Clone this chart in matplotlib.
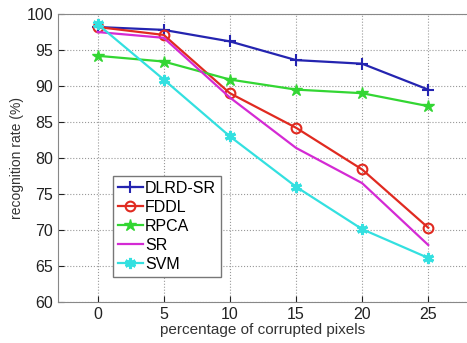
import matplotlib
matplotlib.use("Agg")
from matplotlib import pyplot as plt

x = [0, 5, 10, 15, 20, 25]
dlrd_sr = [98.2, 97.8, 96.2, 93.6, 93.1, 89.5]
fddl = [98.2, 97.1, 89.0, 84.2, 78.4, 70.3]
rpca = [94.2, 93.4, 90.9, 89.5, 89.0, 87.2]
sr = [97.5, 96.7, 88.4, 81.4, 76.5, 67.9]
svm = [98.6, 90.9, 83.0, 76.0, 70.1, 66.1]

plt.rcParams["font.family"] = ["Liberation Sans", "DejaVu Sans"]

fig = plt.figure(figsize=(4.67, 3.43), dpi=100)
ax = fig.add_axes([0.124, 0.12, 0.878, 0.839])

lw = 1.6
ax.plot(x, dlrd_sr, color="#2424b0", marker="+", ms=8, mew=1.5, lw=lw, label="DLRD-SR")
ax.plot(x, fddl, color="#e02a20", marker="o", ms=7, mfc="none", mew=1.5, lw=lw, label="FDDL")
ax.plot(x, rpca, color="#33d633", marker="*", ms=9, lw=lw, label="RPCA")
ax.plot(x, sr, color="#d42ad4", lw=lw, label="SR")
ax.plot(x, svm, color="#33e0e0", marker=(6, 2, 0), ms=8, mew=2.2, lw=lw, label="SVM")

ax.set_xlim(-3, 28)
ax.set_ylim(60, 100)
ax.set_xticks(x)
ax.set_yticks(range(60, 101, 5))
ax.tick_params(direction="in", labelsize=11.5, colors="#222222", length=4)
for s in ax.spines.values():
    s.set_color("#888888")
ax.grid(True, linestyle=":", color="#999999", lw=0.8)

ax.set_xlabel("percentage of corrupted pixels", fontsize=11, color="#333333", labelpad=1)
ax.set_ylabel("recognition rate (%)", fontsize=10, color="#333333", labelpad=2)

leg = ax.legend(loc="lower left", bbox_to_anchor=(0.134, 0.087), fontsize=11.5,
                handlelength=1.6, handletextpad=0.1, borderpad=0.3, labelspacing=0.25,
                fancybox=False, framealpha=1, borderaxespad=0)
leg.get_frame().set_edgecolor("#777777")

fig.savefig("out.png", dpi=100)
